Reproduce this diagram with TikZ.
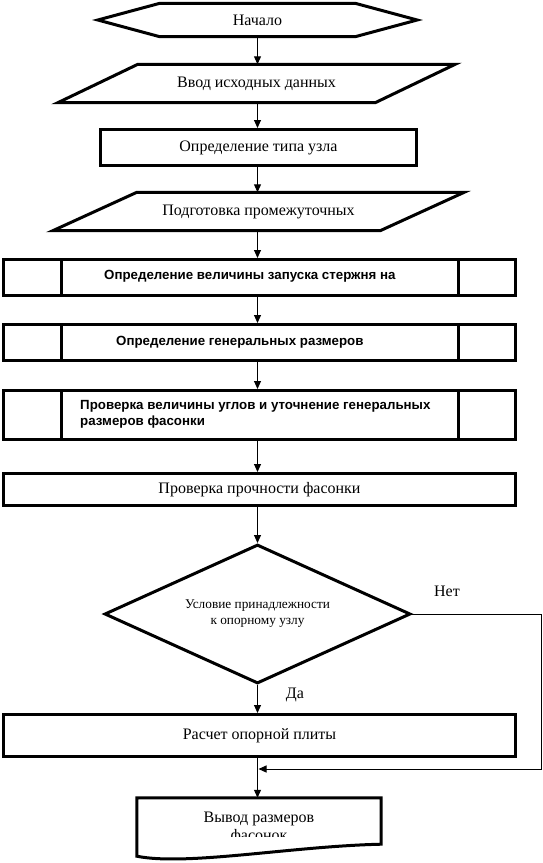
\documentclass[tikz,border=0pt]{standalone}
\usepackage{fontspec}
\setmainfont{Liberation Serif}
\newfontfamily\arialfont{Liberation Sans}
\usepackage{tikz}
\usetikzlibrary{arrows.meta, calc, shapes.geometric}

\begin{document}
\begin{tikzpicture}[x=1pt, y=-1pt,
  box/.style={draw, line width=3pt, inner sep=0pt, font=\fontsize{16}{18}\selectfont},
  frame/.style={inner sep=0pt, font=\fontsize{16}{18}\selectfont},
  outline/.style={line width=3pt, line join=miter},
  arrow/.style={line width=1pt, -{Triangle[width=7pt,length=8pt]}},
  bold/.style={font=\arialfont\bfseries\fontsize{13.3}{16}\selectfont, inner sep=0pt},
  small/.style={font=\fontsize{13.3}{16}\selectfont, align=center}]
\useasboundingbox (0,0) rectangle (543,863);
\coordinate (axis) at (257.5,0);

% start, input
\node[frame, minimum width=195pt, minimum height=33pt] (start) at (257.5,20) {Начало};
\draw[outline] (start.north west) -- (start.north east) -- ($(start.east)+(62,0)$)
  -- (start.south east) -- (start.south west) -- ($(start.west)+(-62,0)$) -- cycle;
\node[frame, minimum width=237pt, minimum height=38pt] (input) at (256.5,83.5) {Ввод исходных данных};
\draw[outline] (input.north west) -- ($(input.north east)+(80,0)$)
  -- (input.south east) -- ($(input.south west)+(-80,0)$) -- cycle;

\node[box, minimum width=316pt, minimum height=36pt] (type) at (258.5,147.5) {Определение типа узла};

\node[frame, minimum width=243pt, minimum height=38pt] (prep) at (258.5,211.5) {Подготовка промежуточных};
\draw[outline] (prep.north west) -- ($(prep.north east)+(84,0)$)
  -- (prep.south east) -- ($(prep.south west)+(-84,0)$) -- cycle;

% predefined processes
\node[box, minimum width=512pt, minimum height=36pt] (b1) at (259.5,277.5) {};
\node[box, minimum width=512pt, minimum height=36pt] (b2) at (259.5,342.5) {};
\node[box, minimum width=512pt, minimum height=49pt] (b3) at (259.5,415) {};
\foreach \b in {b1,b2,b3} {
  \draw[outline] ($(\b.north west)+(59,0)$) -- ($(\b.south west)+(59,0)$);
  \draw[outline] ($(\b.north east)+(-59,0)$) -- ($(\b.south east)+(-59,0)$);
}
\node[bold, anchor=west] (b1-text) at (104,276) {Определение величины запуска стержня на};
\node[bold, anchor=west] (b2-text) at (116,342) {Определение генеральных размеров};
\node[bold, anchor=west, align=left] (b3-text) at (80,414)
  {Проверка величины углов и уточнение генеральных\\размеров фасонки};

\node[box, minimum width=512pt, minimum height=32pt] (strength) at (259.5,489.5) {Проверка прочности фасонки};

% condition
\node[draw, diamond, aspect=2.2, line width=3pt, inner sep=0pt, minimum width=306pt, minimum height=139pt, small]
  (cond) at (257.5,614) {Условие принадлежности\\к опорному узлу};
\node[frame] (no) at (447,591) {Нет};
\node[frame] (yes) at (295,695) {Да};

\node[box, minimum width=512pt, minimum height=42pt] (plate) at (259.5,735.5) {Расчет опорной плиты};

% output document
\node[frame, minimum width=244pt, minimum height=46pt] (out) at (259,821) {};
\draw[outline] (out.north west) -- (out.north east) -- (out.south east)
  .. controls ($(out.south east)+(-90,2)$) and ($(out.south west)+(50,22)$) .. ($(out.south west)+(0,12)$) -- cycle;
\begin{scope}
  \clip (out.north west) rectangle ($(out.north east)+(0,39)$);
  \node[frame, align=center] (out-text) at (259,828) {Вывод размеров\\фасонок};
\end{scope}

% connectors
\foreach \a/\b in {start/input, input/type, type/prep, prep/b1, b1/b2, b2/b3,
                   b3/strength, strength/cond, cond/plate, plate/out}
  \draw[arrow] (\a.south -| axis) -- (\b.north -| axis);
\coordinate (join) at (258.5,769);
\coordinate (rim) at (541,0);
\draw[arrow] (cond.east) -- (cond.east -| rim) |- (join);
\end{tikzpicture}
\end{document}
